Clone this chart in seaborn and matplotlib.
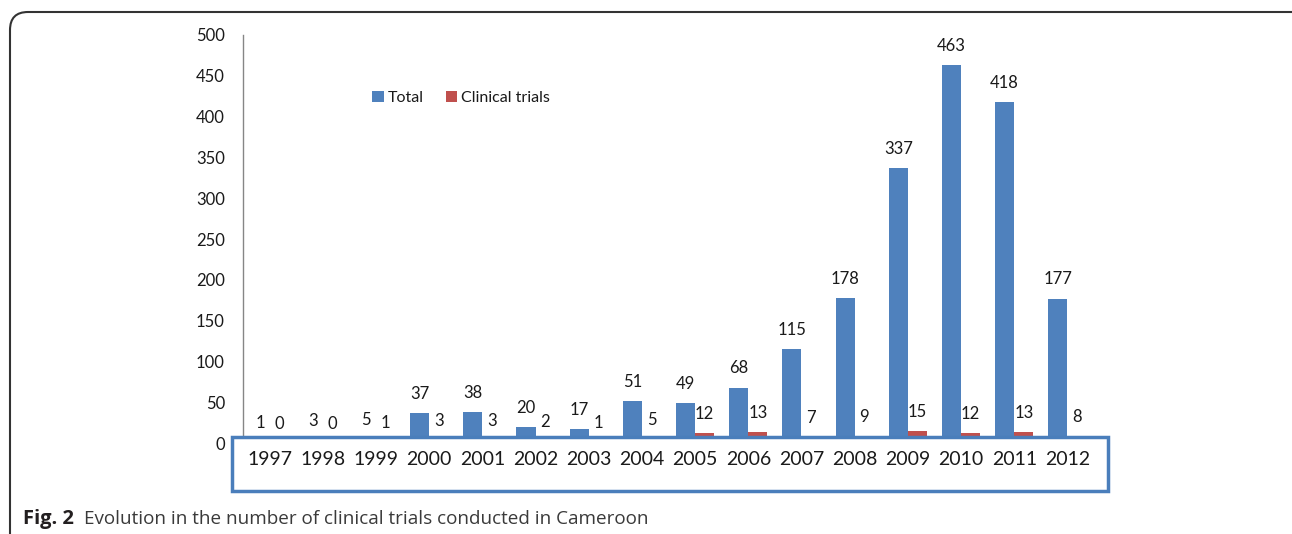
import matplotlib
matplotlib.use("Agg")
import matplotlib.pyplot as plt
from matplotlib.patches import Rectangle, FancyBboxPatch
from matplotlib.transforms import IdentityTransform
import pandas as pd
import seaborn as sns

years = ["1997", "1998", "1999", "2000", "2001", "2002", "2003", "2004",
         "2005", "2006", "2007", "2008", "2009", "2010", "2011", "2012"]
total = [1, 3, 5, 37, 38, 20, 17, 51, 49, 68, 115, 178, 337, 463, 418, 177]
clinical = [0, 0, 1, 3, 3, 2, 1, 5, 12, 13, 7, 9, 15, 12, 13, 8]
series = ["Total", "Clinical trials"]
colors = ["#4F81BD", "#C0504D"]

sns.set_theme(style="white")
plt.rcParams["font.family"] = ["Lato", "DejaVu Sans"]

df = pd.DataFrame({
    "year": years * 2,
    "count": total + clinical,
    "series": [series[0]] * len(years) + [series[1]] * len(years),
})

W, H = 1292, 534
fig = plt.figure(figsize=(W / 100, H / 100), dpi=100)
ax = fig.add_axes([243 / W, 1 - 443 / H, (1094 - 243) / W, (443 - 35) / H])

sns.barplot(data=df, x="year", y="count", hue="series", palette=colors,
            width=0.72, saturation=1, ax=ax, linewidth=0)

for cont in ax.containers:
    ax.bar_label(cont, padding=8, fontsize=12, color="#1a1a1a")

ax.set_ylim(0, 500)
ax.set_xlim(-0.5, len(years) - 0.5)
ax.set_yticks(range(0, 501, 50))
ax.set_xlabel("")
ax.set_ylabel("")
for s in ["top", "right", "bottom"]:
    ax.spines[s].set_visible(False)
ax.spines["left"].set_color("#868686")
ax.spines["left"].set_linewidth(1)
ax.tick_params(axis="y", length=0, pad=13, labelsize=12, labelcolor="#1a1a1a")
ax.tick_params(axis="x", length=0, pad=6, labelsize=14, labelcolor="#1a1a1a")

# box over the category axis
box = Rectangle((232 / W, 1 - 491 / H), (1108 - 232) / W, (491 - 437) / H,
                transform=fig.transFigure, facecolor="white",
                edgecolor="#4a7ebb", linewidth=2.5, clip_on=False, zorder=5)
ax.add_patch(box)
ax.xaxis.set_zorder(10)

leg = ax.legend(loc="center left", bbox_to_anchor=(366 / W, 1 - 98 / H),
                bbox_transform=fig.transFigure, ncol=2, frameon=False,
                fontsize=11.5, handlelength=0.7, handleheight=0.7,
                handletextpad=0.25, columnspacing=1.4, borderaxespad=0)
for t in leg.get_texts():
    t.set_color("#1a1a1a")

# outer rounded frame (pixel coords), cut by the right and bottom edges
frame = FancyBboxPatch((10, -40), 1310 - 10, H - 12 + 40,
                       boxstyle="round,pad=0,rounding_size=18",
                       transform=IdentityTransform(), facecolor="none",
                       edgecolor="#333333", linewidth=1.5)
fig.patches.append(frame)

fig.text(23 / W, 1 - 519 / H, "Fig. 2", fontsize=14.5, fontweight="bold",
         color="#231f20", va="center", family=["Open Sans", "DejaVu Sans"])
fig.text(84 / W, 1 - 519 / H,
         "Evolution in the number of clinical trials conducted in Cameroon",
         fontsize=13.6, color="#3a3a3a", va="center",
         family=["Open Sans", "DejaVu Sans"])

fig.savefig("out.png", dpi=100)
